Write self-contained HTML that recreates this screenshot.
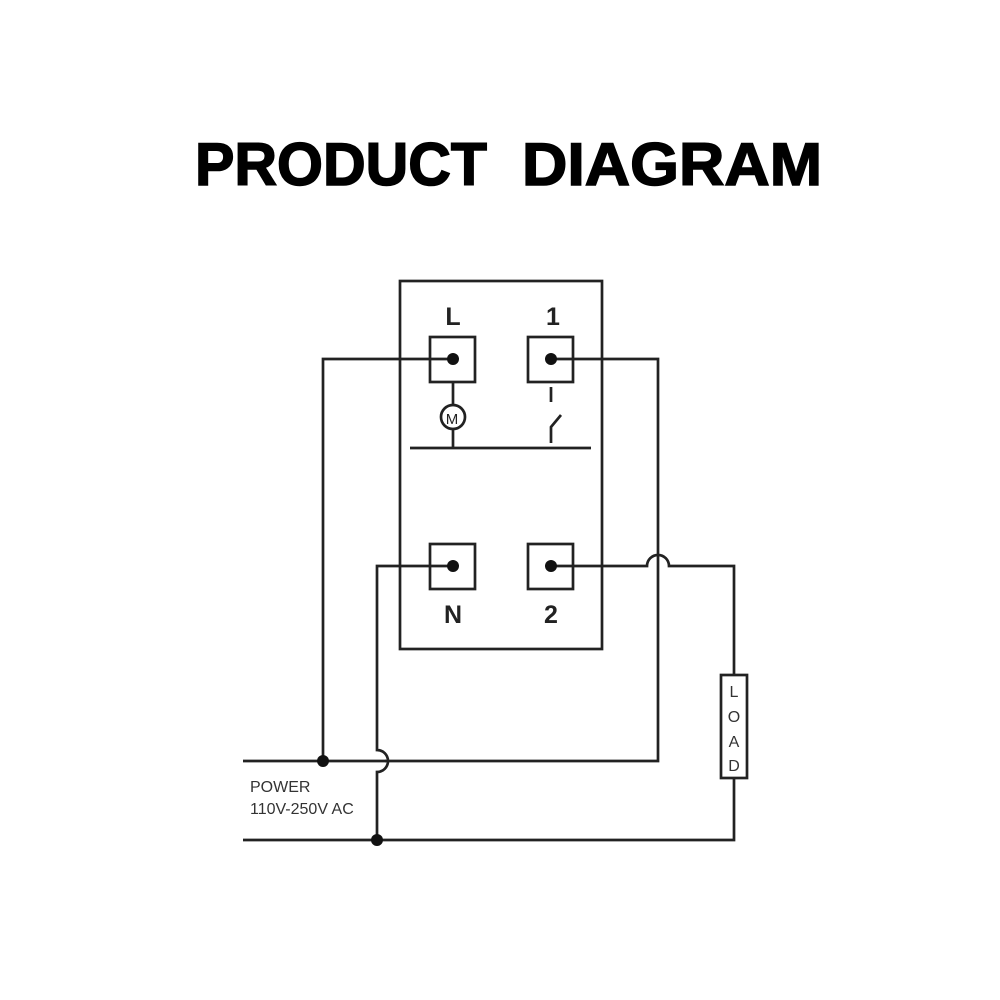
<!DOCTYPE html>
<html><head><meta charset="utf-8"><style>
html,body{margin:0;padding:0;background:#fff;}
svg{display:block;}
</style></head><body>
<svg width="1000" height="1000" viewBox="0 0 1000 1000" xmlns="http://www.w3.org/2000/svg">
<rect width="1000" height="1000" fill="#fff"/>
<g font-family="Liberation Sans, sans-serif" font-weight="bold" fill="#000" stroke="#000" stroke-width="1.5">
<text x="195" y="185" font-size="60" textLength="292" lengthAdjust="spacingAndGlyphs">PRODUCT</text>
<text x="522" y="185" font-size="60" textLength="300" lengthAdjust="spacingAndGlyphs">DIAGRAM</text>
</g>
<g fill="none" stroke="#222" stroke-width="2.7">
<rect x="400" y="281" width="202" height="368"/>
<rect x="430" y="337" width="45" height="45"/>
<rect x="528" y="337" width="45" height="45"/>
<rect x="430" y="544" width="45" height="45"/>
<rect x="528" y="544" width="45" height="45"/>
<line x1="453" y1="383" x2="453" y2="405"/>
<circle cx="453" cy="417" r="12"/>
<line x1="453" y1="429" x2="453" y2="448"/>
<line x1="410" y1="448" x2="591" y2="448"/>
<line x1="551" y1="387" x2="551" y2="402"/>
<polyline points="551,443 551,427 561,415"/>
<polyline points="453,359 323,359 323,761"/>
<polyline points="551,359 658,359 658,761 385,761"/>
<line x1="243" y1="761" x2="386" y2="761"/>
<path d="M453,566 L377,566 L377,750 A11,11 0 0 1 377,772 L377,840"/>
<polyline points="243,840 734,840 734,778"/>
<path d="M551,566 L647,566 A11,11 0 0 1 669,566 L734,566 L734,675"/>
<rect x="721" y="675" width="26" height="103"/>
</g>
<g fill="#111">
<circle cx="453" cy="359" r="6"/>
<circle cx="551" cy="359" r="6"/>
<circle cx="453" cy="566" r="6"/>
<circle cx="551" cy="566" r="6"/>
<circle cx="323" cy="761" r="6"/>
<circle cx="377" cy="840" r="6"/>
</g>
<g font-family="Liberation Sans, sans-serif" font-weight="bold" font-size="25" fill="#222" text-anchor="middle">
<text x="453" y="325">L</text>
<text x="553" y="325">1</text>
<text x="453" y="623">N</text>
<text x="551" y="623">2</text>
</g>
<text x="452" y="424" font-family="Liberation Sans, sans-serif" font-size="15" fill="#222" text-anchor="middle">M</text>
<g font-family="Liberation Sans, sans-serif" font-size="16" fill="#333" text-anchor="middle">
<text x="734" y="697">L</text>
<text x="734" y="722">O</text>
<text x="734" y="747">A</text>
<text x="734" y="771">D</text>
</g>
<g font-family="Liberation Sans, sans-serif" font-size="16" fill="#333">
<text x="250" y="792">POWER</text>
<text x="250" y="814">110V-250V AC</text>
</g>
</svg>
</body></html>
